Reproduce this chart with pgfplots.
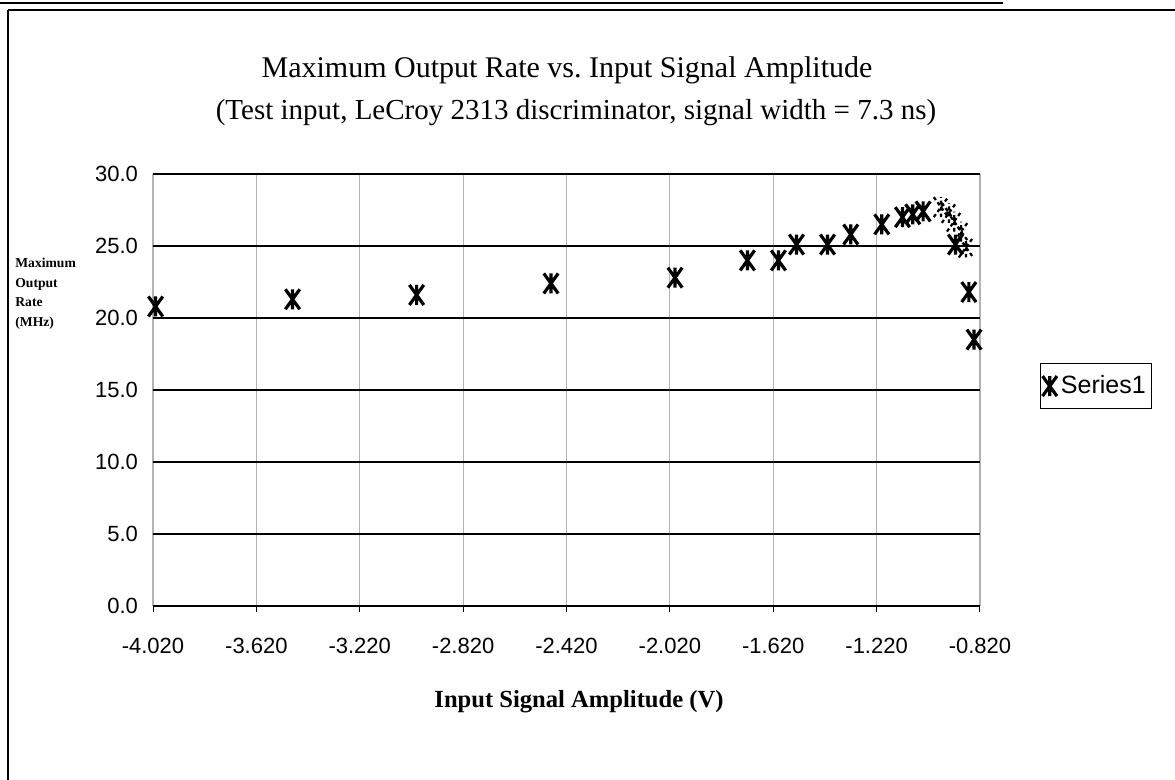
\documentclass[border=0pt]{standalone}
\usepackage{pgfplots}
\pgfplotsset{compat=1.18}
\usepackage{fontspec}
\setmainfont{Liberation Serif}
\newfontfamily\arial{Liberation Sans}
\pgfdeclareplotmark{xstar}{%
  \pgfpathmoveto{\pgfqpoint{0pt}{-\pgfplotmarksize}}%
  \pgfpathlineto{\pgfqpoint{0pt}{\pgfplotmarksize}}%
  \pgfpathmoveto{\pgfqpoint{-0.72\pgfplotmarksize}{-\pgfplotmarksize}}%
  \pgfpathlineto{\pgfqpoint{0.72\pgfplotmarksize}{\pgfplotmarksize}}%
  \pgfpathmoveto{\pgfqpoint{-0.72\pgfplotmarksize}{\pgfplotmarksize}}%
  \pgfpathlineto{\pgfqpoint{0.72\pgfplotmarksize}{-\pgfplotmarksize}}%
  \pgfusepathqstroke}
\begin{document}
\begin{tikzpicture}[x=0.5pt,y=0.5pt]
\path[use as bounding box] (0,0) rectangle (1175,780);
% outer frame
\draw[line width=1.2pt] (0,777) -- (1003,777);
\draw[line width=1pt] (8,770) -- (1175,770);
\draw[line width=1pt] (8,770) -- (8,0);
\begin{axis}[
  at={(76.5pt,87pt)}, anchor=south west,
  scale only axis, width=413.5pt, height=216pt,
  xmin=-4.02, xmax=-0.82, ymin=0, ymax=30,
  xtick={-4.02,-3.62,-3.22,-2.82,-2.42,-2.02,-1.62,-1.22,-0.82},
  xticklabels={-4.020,-3.620,-3.220,-2.820,-2.420,-2.020,-1.620,-1.220,-0.820},
  ytick={0,5,10,15,20,25,30},
  yticklabels={0.0,5.0,10.0,15.0,20.0,25.0,30.0},
  tick label style={font=\arial\fontsize{11pt}{13pt}\selectfont},
  xtick align=outside, xtick pos=bottom, ytick pos=left,
  major tick length=3pt,
  xtick style={black, line width=0.5pt},
  ytick style={draw=none},
  xmajorgrids, ymajorgrids,
  x grid style={gray!60, line width=0.6pt},
  y grid style={black, line width=0.6pt},
  axis line style={draw=none},
  xticklabel style={yshift=-9.5pt},
  yticklabel style={xshift=-4pt},
  clip=false,
  legend style={at={(1.0726,0.509)}, anchor=west, draw=black, line width=0.5pt,
    font=\arial\fontsize{12.5pt}{14pt}\selectfont, inner xsep=1pt, inner ysep=4pt},
  legend cell align=left,
]
\addplot[only marks, mark=xstar, mark size=5pt, mark options={line width=1.6pt, black}] coordinates {
(-4.01,20.8) (-3.48,21.3) (-3.00,21.6) (-2.48,22.4) (-2.00,22.8)
(-1.72,24.0) (-1.60,24.0) (-1.53,25.1) (-1.41,25.1) (-1.32,25.8)
(-1.20,26.5) (-1.12,27.0) (-1.08,27.2) (-1.04,27.4)
(-0.915,25.1) (-0.863,21.8) (-0.843,18.5)
};
\addlegendentry{Series1}
\addplot[only marks, forget plot, mark=xstar, mark size=5pt, mark options={line width=1.1pt, black, dash pattern=on 1.8pt off 1.4pt}] coordinates {
(-0.971,27.7) (-0.940,27.3) (-0.920,26.7) (-0.893,26.0) (-0.874,24.9)
};
\end{axis}
\node[font=\fontsize{15pt}{17pt}\selectfont] at (567,710) {Maximum Output Rate vs.\ Input Signal Amplitude};
\node[font=\fontsize{14.5pt}{17pt}\selectfont] at (576,667) {(Test input, LeCroy 2313 discriminator, signal width = 7.3 ns)};
\node[font=\bfseries\fontsize{12.3pt}{14pt}\selectfont] at (579,78) {Input Signal Amplitude (V)};
\node[font=\bfseries\fontsize{6.8pt}{9.75pt}\selectfont, align=left, anchor=north west, inner sep=0pt] at (15,522) {Maximum\\Output\\Rate\\(MHz)};
\end{tikzpicture}
\end{document}
